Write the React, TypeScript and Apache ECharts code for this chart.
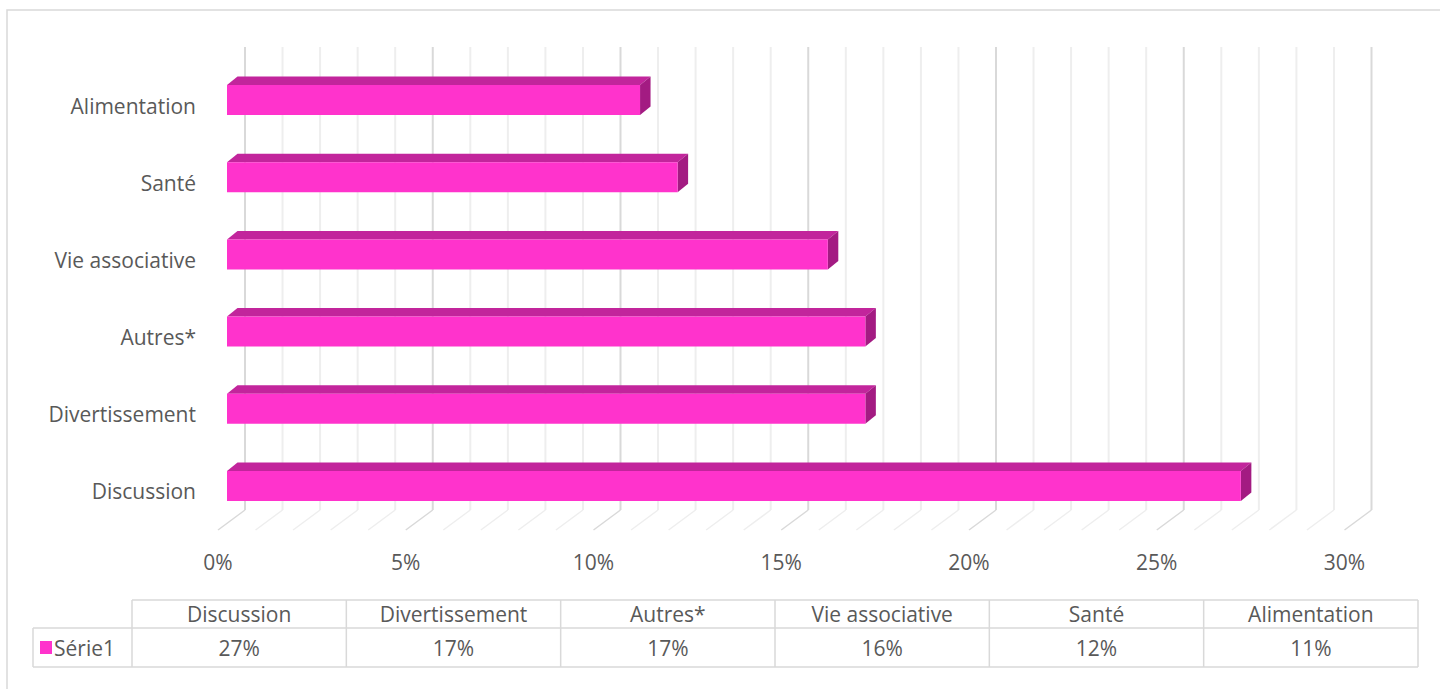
import React, { useEffect, useRef } from "react";
import * as echarts from "echarts";

const categories = ["Discussion", "Divertissement", "Autres*", "Vie associative", "Santé", "Alimentation"];
const values = [27, 17, 17, 16, 12, 11];
const seriesName = "Série1";
const gridTicks = Array.from({ length: 31 }, (_, i) => i); // 0..30 % gridlines
const xMax = 30;
const xInterval = 5;

const FONT = "'Open Sans', sans-serif";
const FS = 21;
const TEXT = "#595959";
const FRONT = "#FF33CC";
const TOP = "#C2259C";
const SIDE = "#A31B82";
const DEPTH_X = 27;
const DEPTH_Y = -20;

export default function App() {
  const ref = useRef<HTMLDivElement>(null);

  useEffect(() => {
    document.body.style.margin = "0";
    const chart = echarts.init(ref.current!, null, { renderer: "svg" });

    const tLeft = 132;
    const tRight = 1418;
    const colW = (tRight - tLeft) / categories.length;
    const r0 = 600;
    const r1 = 628;
    const r2 = 667;
    const legLeft = 33;
    const lineStyle = { stroke: "#d9d9d9", lineWidth: 1.5 };
    const font = `${FS}px ${FONT}`;

    const graphics: any[] = [
      {
        type: "rect",
        shape: { x: 7, y: 10, width: 1460, height: 720 },
        style: { fill: "none", stroke: "#d9d9d9", lineWidth: 1.5 },
        silent: true,
      },
      { type: "line", shape: { x1: tLeft, y1: r0, x2: tRight, y2: r0 }, style: lineStyle },
      { type: "line", shape: { x1: legLeft, y1: r1, x2: tRight, y2: r1 }, style: lineStyle },
      { type: "line", shape: { x1: legLeft, y1: r2, x2: tRight, y2: r2 }, style: lineStyle },
      { type: "line", shape: { x1: legLeft, y1: r1, x2: legLeft, y2: r2 }, style: lineStyle },
      {
        type: "rect",
        shape: { x: 40, y: 641, width: 12, height: 13 },
        style: { fill: FRONT },
      },
      {
        type: "text",
        x: 54,
        y: (r1 + r2) / 2,
        style: { text: seriesName, fill: TEXT, font, textAlign: "left", textVerticalAlign: "middle" },
      },
    ];
    for (let i = 0; i <= categories.length; i++) {
      const x = tLeft + i * colW;
      graphics.push({ type: "line", shape: { x1: x, y1: r0, x2: x, y2: r2 }, style: lineStyle });
    }
    categories.forEach((c, i) => {
      const cx = tLeft + (i + 0.5) * colW;
      graphics.push({
        type: "text",
        x: cx,
        y: (r0 + r1) / 2,
        style: { text: c, fill: TEXT, font, textAlign: "center", textVerticalAlign: "middle" },
      });
      graphics.push({
        type: "text",
        x: cx,
        y: (r1 + r2) / 2,
        style: { text: values[i] + "%", fill: TEXT, font, textAlign: "center", textVerticalAlign: "middle" },
      });
    });

    chart.setOption({
      animation: false,
      grid: { left: 218, width: 1126.5, top: 67, bottom: 159, containLabel: false },
      xAxis: {
        type: "value",
        min: 0,
        max: xMax,
        interval: xInterval,
        axisLabel: { formatter: "{value}%", color: TEXT, fontSize: FS, fontFamily: FONT, margin: 21 },
        axisLine: { show: false },
        axisTick: { show: false },
        splitLine: { show: false },
      },
      yAxis: {
        type: "category",
        data: categories,
        axisLabel: { color: TEXT, fontSize: FS, fontFamily: FONT, margin: 22 },
        axisLine: { show: false },
        axisTick: { show: false },
        splitLine: { show: false },
      },
      series: [
        {
          type: "custom",
          name: "grid",
          silent: true,
          data: gridTicks.map((t) => [t, 0]),
          encode: { x: 0, y: 1 },
          renderItem: (params: any, api: any) => {
            const t = api.value(0);
            const p = api.coord([t, 0]);
            const cs = params.coordSys;
            const top = cs.y;
            const bottom = cs.y + cs.height;
            const major = t % 5 === 0;
            const color = major ? "#d9d9d9" : "#eeeeee";
            const bx = p[0] + DEPTH_X;
            return {
              type: "group",
              children: [
                {
                  type: "line",
                  shape: { x1: bx, y1: top + DEPTH_Y, x2: bx, y2: bottom + DEPTH_Y },
                  style: { stroke: color, lineWidth: 2 },
                },
                {
                  type: "line",
                  shape: { x1: bx, y1: bottom + DEPTH_Y, x2: p[0], y2: bottom },
                  style: { stroke: color, lineWidth: 1.5 },
                },
              ],
            };
          },
          z: 1,
        },
        {
          type: "custom",
          name: seriesName,
          data: values.map((v, i) => [v, i]),
          encode: { x: 0, y: 1 },
          renderItem: (params: any, api: any) => {
            const v = api.value(0);
            const c = api.value(1);
            const p0 = api.coord([0, c]);
            const p1 = api.coord([v, c]);
            const h = 30;
            const fx = 9;
            const fy = -5.5;
            const dx = 10.5;
            const dy = -8.5;
            const x = p0[0] + fx;
            const y = p0[1] + fy - h / 2;
            const w = p1[0] - p0[0];
            return {
              type: "group",
              children: [
                {
                  type: "polygon",
                  shape: { points: [[x, y], [x + w, y], [x + w + dx, y + dy], [x + dx, y + dy]] },
                  style: { fill: TOP },
                },
                {
                  type: "polygon",
                  shape: { points: [[x + w, y], [x + w + dx, y + dy], [x + w + dx, y + h + dy], [x + w, y + h]] },
                  style: { fill: SIDE },
                },
                {
                  type: "rect",
                  shape: { x, y, width: w, height: h },
                  style: { fill: FRONT },
                },
              ],
            };
          },
          z: 2,
        },
      ],
      graphic: graphics,
    });

    return () => chart.dispose();
  }, []);

  return <div ref={ref} style={{ width: 1440, height: 689 }} />;
}
